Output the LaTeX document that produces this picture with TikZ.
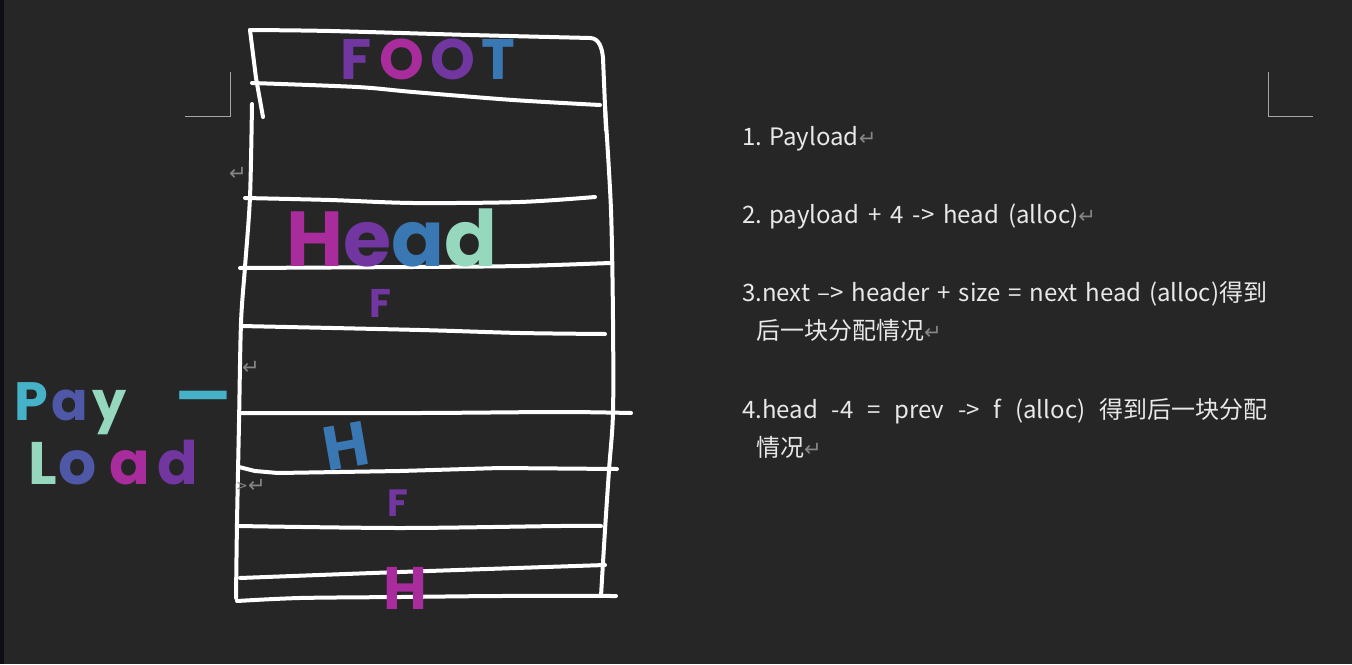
\documentclass[tikz,border=0pt]{standalone}
\usepackage{fontspec}
\usepackage{tikz}
\usetikzlibrary{positioning}

\newfontfamily\cjkfont{Noto Sans CJK SC}
\newfontfamily\markfont{DejaVu Sans}
\newfontfamily\handfont{Poppins}

\definecolor{pagebg}{HTML}{262626}
\definecolor{edgedark}{HTML}{0E0E16}
\definecolor{cropgray}{HTML}{A6A6A6}
\definecolor{markgray}{HTML}{858585}
\definecolor{notewhite}{HTML}{E8E8E8}
\definecolor{glpurple}{HTML}{7236A0}
\definecolor{glmagenta}{HTML}{A82C9C}
\definecolor{glblue}{HTML}{3A78B4}
\definecolor{glteal}{HTML}{46B2C8}
\definecolor{glmint}{HTML}{96D8BE}
\definecolor{glindigo}{HTML}{4E58A6}

\newcommand\parmark{{\markfont\color{markgray}\fontsize{21}{21}\selectfont ↵}}

\begin{document}
\begin{tikzpicture}[x=1pt,y=-1pt,
ink/.style={draw=white,line width=4pt,line cap=round,line join=round},
crop/.style={draw=cropgray,line width=1pt},
note/.style={anchor=base west,inner sep=0pt,text=notewhite,font=\cjkfont\fontsize{24}{28}\selectfont},
pmk/.style={inner sep=0pt},
hand/.style={inner sep=0pt,font=\handfont\bfseries\fontsize{#1}{#1}\selectfont}]
\fill[pagebg] (0,0) rectangle (1352,664);
\useasboundingbox (0,0) rectangle (1352,664);
\fill[edgedark] (0,0) rectangle (4,664);
% page corner marks
\draw[crop] (185,116) -- (230,116) -- (230,72);
\draw[crop] (1268,72) -- (1268,116) -- (1313,116);

% hand drawn block
\draw[ink] plot[smooth] coordinates {(250,30) (330,31) (470,35) (590,38)};
\draw[ink] (590,38) to[out=0,in=95] (603,58) -- (606,130);
\draw[ink] (250,30) -- (256,78) -- (263,117);
\draw[ink] plot[smooth] coordinates {(252,83) (357,87) (413,92) (513,100) (600,105)};
\draw[ink] plot[smooth] coordinates {(252,104) (250,197) (245,267) (241,323) (239,423) (237,523) (236,598)};
\draw[ink] plot[smooth] coordinates {(605,107) (611,210) (613,320) (613,413) (609,470) (605,530) (601,596)};
\draw[ink] plot[smooth] coordinates {(245,198) (330,200) (413,203) (520,202) (595,197)};
\draw[ink] plot[smooth] coordinates {(240,268) (413,267) (520,266) (610,263)};
\draw[ink] plot[smooth] coordinates {(241,326) (420,330) (520,333) (605,334)};
\draw[ink] plot[smooth] coordinates {(241,413) (420,413) (560,412) (631,413)};
\draw[ink] (239,467) -- (255,471) -- (278,473) -- (400,471) -- (500,468) -- (617,469);
\draw[ink] plot[smooth] coordinates {(238,526) (400,528) (560,526) (601,526)};
\draw[ink] plot[smooth] coordinates {(240,578) (400,572) (605,565)};
\draw[ink] plot[smooth] coordinates {(237,601) (300,598) (400,597) (500,596) (616,596)};

% paragraph marks of the page
\node[pmk] (pm1) at (238,174) {\parmark};
\node[pmk] (pm2) at (251,368) {\parmark};
\node[pmk] (pm3) at (257,486) {\parmark};
\node[pmk,left=0pt of pm3,text=markgray,font=\markfont\fontsize{14}{14}\selectfont] (gt) {>};

% glitter labels
\node[hand=57,anchor=base] (foot) at (428,79)
  {\textcolor{glpurple}{F}\hspace{8pt}\textcolor{glmagenta}{O}\hspace{6pt}\textcolor{glpurple}{O}\hspace{6pt}\textcolor{glblue}{T}};
\node[hand=78,anchor=base] (head) at (392,266)
  {\textcolor{glmagenta}{H}\textcolor{glpurple}{e}\textcolor{glblue}{a}\textcolor{glmint}{d}};
\node[hand=40] (fup) at (380,303) {\textcolor{glpurple}{F}};
\node[hand=54,anchor=base west] (pay) at (14,420)
  {\textcolor{glteal}{P}\hspace{4pt}\textcolor{glindigo}{a}\hspace{4pt}\textcolor{glmint}{y}};
\node[hand=60] (dash) at (203,404) {\textcolor{glteal}{—}};
\node[hand=60,anchor=base west] (load) at (28,484)
  {\textcolor{glmint}{L}\hspace{2pt}\textcolor{glindigo}{o}\hspace{12pt}\textcolor{glmagenta}{a}\hspace{8pt}\textcolor{glpurple}{d}};
\node[hand=62,rotate=10] (hmid) at (346,446) {\textcolor{glblue}{H}};
\node[hand=38] (flow) at (398,503) {\textcolor{glpurple}{F}};
\node[hand=60] (hlow) at (405,588) {\textcolor{glmagenta}{H}};

% notes
\node[note] (n1) at (742,145) {1. Payload\parmark};
\node[note] (n2) at (742,223) {2. \makebox[309pt][s]{payload + 4 -> head (alloc)}\parmark};
\node[note] (n3) at (742,301) {\makebox[525pt][s]{3.next –> header + size = next head (alloc)得到}};
\node[note] (n3b) at (756,339) {后一块分配情况\parmark};
\node[note] (n4) at (742,418) {\makebox[525pt][s]{4.head -4 = prev -> f (alloc) 得到后一块分配}};
\node[note] (n4b) at (756,456) {情况\parmark};
\end{tikzpicture}
\end{document}
